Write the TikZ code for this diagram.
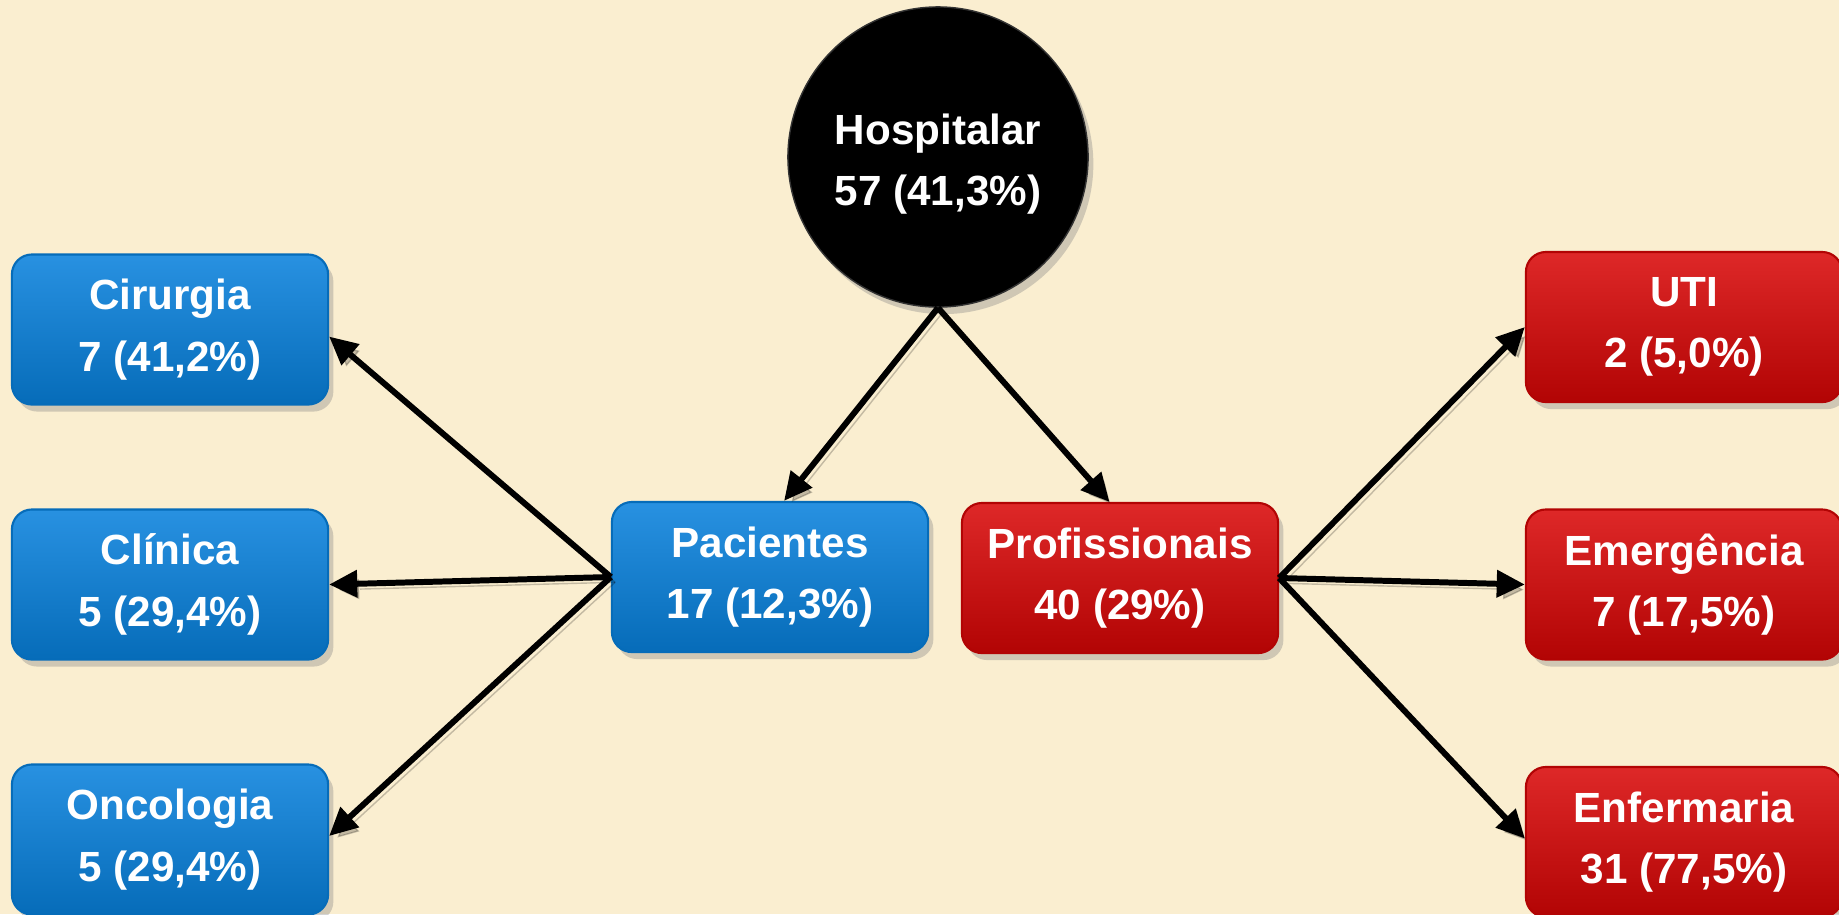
\documentclass[tikz,border=0pt]{standalone}
\usepackage{fontspec}
\setmainfont{Liberation Sans}
\usetikzlibrary{arrows.meta,shadows}
\definecolor{bgc}{RGB}{250,238,208}
\definecolor{blueM}{RGB}{8,122,206}
\definecolor{blueT}{RGB}{40,145,225}
\definecolor{blueB}{RGB}{6,108,185}
\definecolor{redM}{RGB}{204,6,6}
\definecolor{redT}{RGB}{222,40,40}
\definecolor{redB}{RGB}{178,4,4}
\tikzset{
  lbl/.style={text=white, align=center, font=\bfseries\fontsize{12}{17.5}\selectfont},
  box/.style={lbl, rectangle, rounded corners=0.2cm, minimum width=3.16cm, minimum height=1.5cm,
    drop shadow={shadow xshift=1.5pt, shadow yshift=-2pt, opacity=0.35}},
  bluebox/.style={box, top color=blueT, middle color=blueM, bottom color=blueB, draw=blueB, line width=0.6pt},
  redbox/.style={box, top color=redT, middle color=redM, bottom color=redB, draw=redB, line width=0.6pt},
  hub/.style={circle, fill=black, draw=black!80, minimum size=3cm, inner sep=0pt,
    drop shadow={shadow xshift=1.5pt, shadow yshift=-2pt, opacity=0.35}},
  conn/.style={line width=1.7pt, -{Triangle[length=8pt,width=7.5pt]},
    preaction={draw=black, opacity=0.22, transform canvas={shift={(1.2pt,-1.5pt)}}}}
}
\begin{document}
\begin{tikzpicture}[x=0.01cm, y=-0.01cm]
\fill[bgc] (0,0) rectangle (1839,914);
\useasboundingbox (0,0) rectangle (1839,914);
\node[hub] (hosp) at (938,157) {};
\node[lbl] (hosptxt) at (938,164) {Hospitalar\\57 (41,3\%)};
\node[bluebox] (cir) at (170,329.5) {Cirurgia\\7 (41,2\%)};
\node[bluebox] (cli) at (170,584.5) {Clínica\\5 (29,4\%)};
\node[bluebox] (onc) at (170,839.5) {Oncologia\\5 (29,4\%)};
\node[bluebox] (pac) at (770,577) {Pacientes\\17 (12,3\%)};
\node[redbox] (pro) at (1120,578) {Profissionais\\40 (29\%)};
\node[redbox] (uti) at (1684,327) {UTI\\2 (5,0\%)};
\node[redbox] (eme) at (1684,584.5) {Emergência\\7 (17,5\%)};
\node[redbox] (enf) at (1684,842) {Enfermaria\\31 (77,5\%)};
\draw[conn] (hosp.south) -- ([xshift=4pt]pac.north);
\draw[conn] (hosp.south) -- ([xshift=-3pt]pro.north);
\draw[conn] (pac.west) -- ([yshift=-2pt]cir.east);
\draw[conn] (pac.west) -- (cli.east);
\draw[conn] (pac.west) -- ([yshift=1pt]onc.east);
\draw[conn] (pro.east) -- (uti.west);
\draw[conn] (pro.east) -- (eme.west);
\draw[conn] (pro.east) -- ([yshift=1pt]enf.west);
\end{tikzpicture}
\end{document}
